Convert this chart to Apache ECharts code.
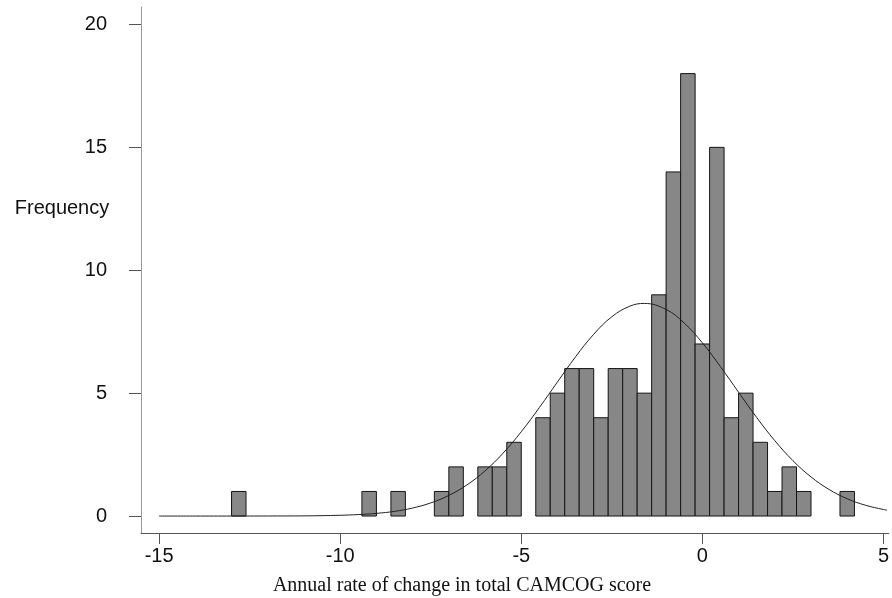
<!DOCTYPE html>
<html>
<head>
<meta charset="utf-8">
<script src="https://cdn.jsdelivr.net/npm/echarts@6/dist/echarts.min.js"></script>
<style>
html,body{margin:0;padding:0;background:#fff;}
#chart{width:892px;height:598px;}
</style>
</head>
<body>
<div id="chart"></div>
<script>
// Histogram bins (lower edge of each non-empty bin, width 0.4) and counts
const binWidth = 0.4;
const binLow = [-13.0, -9.4, -8.6, -7.4, -7.0, -6.2, -5.8, -5.4, -4.6, -4.2, -3.8, -3.4, -3.0, -2.6, -2.2, -1.8, -1.4, -1.0, -0.6, -0.2, 0.2, 0.6, 1.0, 1.4, 1.8, 2.2, 2.6, 3.8];
const counts = [1, 1, 1, 1, 2, 2, 2, 3, 4, 5, 6, 6, 4, 6, 6, 5, 9, 14, 18, 7, 15, 4, 5, 3, 1, 2, 1, 1];

// Fitted normal curve
const curveX = [-15, -14, -13, -12, -11, -10, -9.5, -9, -8.5, -8, -7.5, -7, -6.5, -6, -5.5, -5, -4.5, -4, -3.5, -3, -2.5, -2, -1.6, -1, -0.5, 0, 0.5, 1, 1.5, 2, 2.5, 3, 3.5, 4, 4.5, 5, 5.1];
const curveY = [0, 0, 0, 0.002, 0.007, 0.031, 0.06, 0.108, 0.19, 0.326, 0.534, 0.839, 1.267, 1.838, 2.562, 3.431, 4.414, 5.456, 6.481, 7.395, 8.108, 8.54, 8.65, 8.404, 7.852, 7.048, 6.078, 5.037, 4.01, 3.067, 2.254, 1.592, 1.08, 0.704, 0.441, 0.265, 0.239];

const xTicks = [-15, -10, -5, 0, 5];
const yTicks = [0, 5, 10, 15, 20];

const barData = binLow.map((lo, i) => [lo, +(lo + binWidth).toFixed(2), counts[i]]);
const lineData = curveX.map((x, i) => [x, curveY[i]]);

const chart = echarts.init(document.getElementById('chart'), null, {renderer: 'canvas'});
chart.setOption({
  animation: false,
  backgroundColor: '#fff',
  grid: {left: 141, right: 1, top: 7, bottom: 65, containLabel: false},
  xAxis: {
    type: 'value', min: -15.5, max: 5.15,
    axisLine: {show: true, onZero: false, lineStyle: {color: '#555', width: 1}},
    axisTick: {show: true, customValues: xTicks, length: 11, lineStyle: {color: '#555'}},
    axisLabel: {customValues: xTicks, margin: 13, fontFamily: 'Liberation Sans, Arial, sans-serif', fontSize: 20, color: '#111'},
    splitLine: {show: false}
  },
  yAxis: {
    type: 'value', min: -0.69, max: 20.71,
    axisLine: {show: true, onZero: false, lineStyle: {color: '#999', width: 1}},
    axisTick: {show: true, customValues: yTicks, length: 12, lineStyle: {color: '#555'}},
    axisLabel: {customValues: yTicks, margin: 34, fontFamily: 'Liberation Sans, Arial, sans-serif', fontSize: 20, color: '#111'},
    splitLine: {show: false}
  },
  graphic: [
    {type: 'text', x: 62, y: 208, style: {text: 'Frequency', fontFamily: 'Liberation Sans, Arial, sans-serif', fontSize: 20, fill: '#111', textAlign: 'center', textVerticalAlign: 'middle'}},
    {type: 'text', x: 462, y: 586, style: {text: 'Annual rate of change in total CAMCOG score', fontFamily: 'Liberation Serif, Times New Roman, serif', fontSize: 20, fill: '#111', textAlign: 'center', textVerticalAlign: 'middle'}}
  ],
  series: [
    {
      type: 'custom',
      data: barData,
      encode: {x: [0, 1], y: 2},
      renderItem: function (params, api) {
        const p0 = api.coord([api.value(0), api.value(2)]);
        const p1 = api.coord([api.value(1), 0]);
        return {
          type: 'rect',
          shape: {x: p0[0], y: p0[1], width: p1[0] - p0[0], height: p1[1] - p0[1]},
          style: {fill: '#878787', stroke: '#151515', lineWidth: 1}
        };
      },
      z: 2
    },
    {
      type: 'line',
      data: lineData,
      smooth: 0.4,
      showSymbol: false,
      lineStyle: {color: '#222', width: 1},
      z: 3
    }
  ]
});
</script>
</body>
</html>
